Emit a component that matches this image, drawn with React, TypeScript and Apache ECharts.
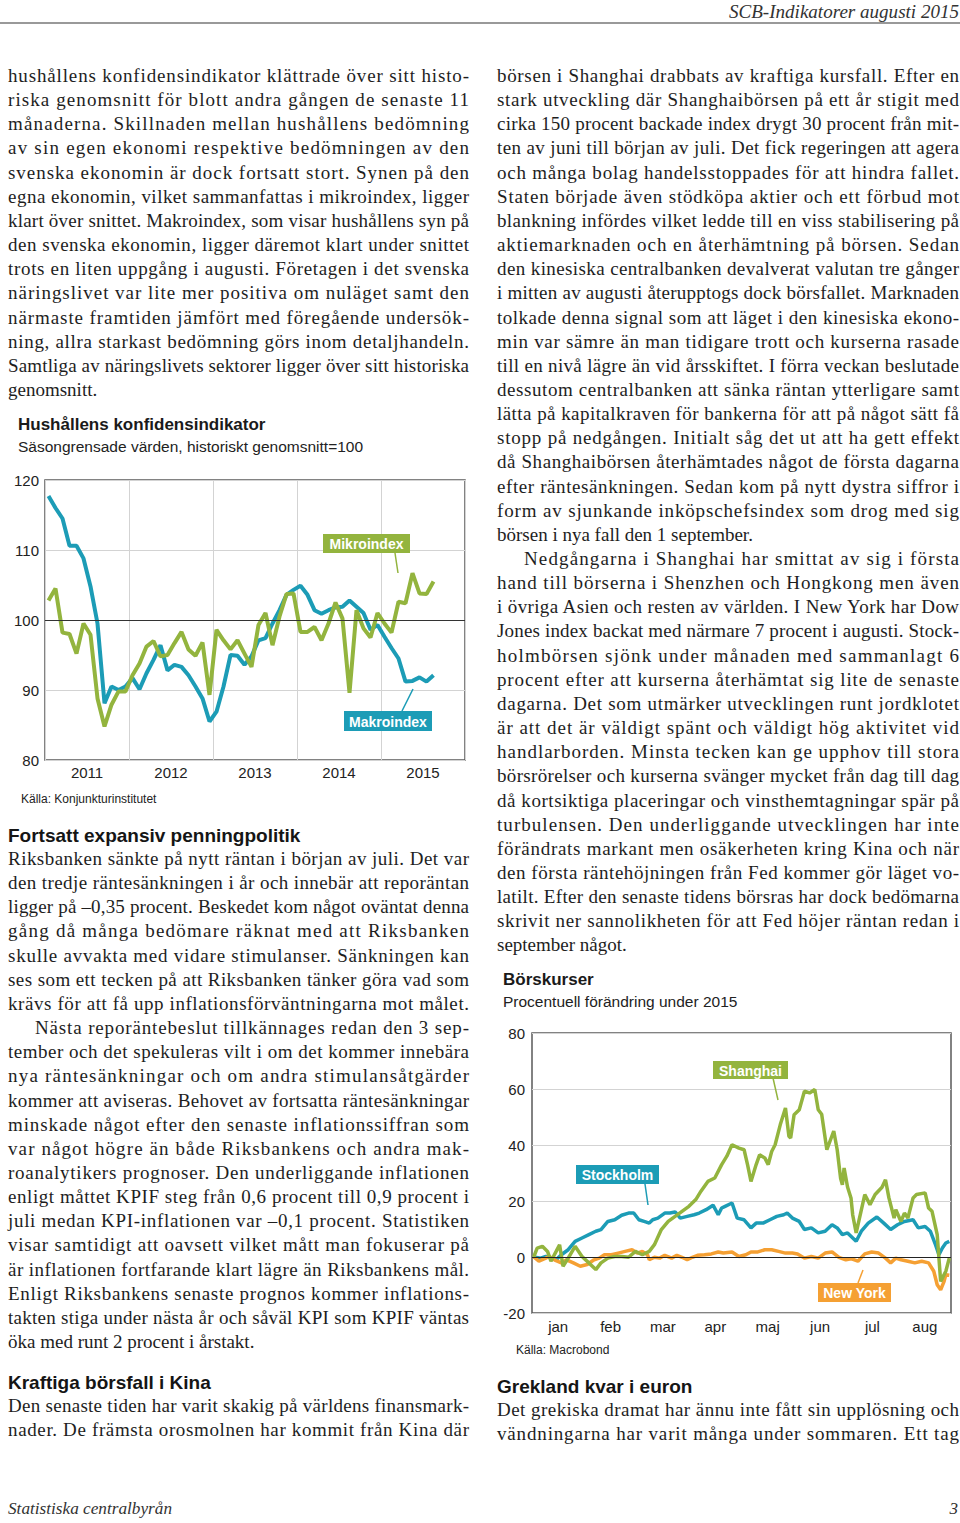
import React, { useEffect, useRef } from 'react';
import * as echarts from 'echarts';

// ---------- Chart 1 data: Hushållens konfidensindikator (monthly, Jan 2011 - Aug 2015)
const years = ['2011', '2012', '2013', '2014', '2015'];
const makroindex = [117.7, 116, 114.5, 110.6, 110.6, 108.8, 104.8, 99.5, 88.1, 90.5, 90, 90.5,
  91.7, 90.1, 92.4, 94.3, 96.4, 92.8, 93.6, 93.3, 92.1, 90.5, 88.8, 85.5,
  86.9, 90.5, 95, 94.9, 93.6, 94.8, 97.1, 97.4, 99.5, 101.4, 103.6, 104.3,
  104.9, 103.6, 101.4, 100.9, 101.4, 101.8, 101.9, 102.8, 101.9, 101, 98.6, 99.3,
  97.6, 96, 94.5, 91.2, 91.3, 91.8, 91.2, 92.1];
const mikroindex = [102.8, 104.5, 98.2, 98, 95.2, 99.5, 97.9, 88.8, 84.8, 87.9, 89.8, 89.8,
  92.1, 93.8, 96.2, 97, 94.8, 95, 96.7, 98.3, 95.8, 94.9, 96.8, 89.3,
  98.6, 97.1, 95.8, 97.1, 95.2, 93.3, 99.3, 101, 96.4, 100.5, 103.7, 103.8,
  98.3, 98.3, 99, 97.1, 99.5, 102.5, 100.2, 89.6, 101.4, 98.8, 97.5, 101,
  99.5, 98.2, 102.6, 102.4, 106.7, 103.8, 103.7, 105.5];

// ---------- Chart 2 data: Börskurser 2015, [day of year, % change]
const months = ['jan', 'feb', 'mar', 'apr', 'maj', 'jun', 'jul', 'aug'];
const stockholm: [number, number][] = [[1, 0], [5, -0.4], [8, 0.2], [10, -0.1], [14, -1], [17, 0.8], [21, 2.6], [25, 5.6], [29, 6.8], [33, 8], [37, 9.2], [40, 9.8], [44, 12.7], [48, 13.3], [52, 14.9], [56, 15.7], [59, 15.7], [62, 13.3], [65, 12.7], [68, 12.1], [70, 13.3], [73, 13.9], [77, 15.7], [80, 15.7], [83, 16.1], [86, 13.9], [90, 14.5], [94, 15.1], [97, 15.7], [101, 16.9], [105, 18.5], [108, 15.1], [110, 17.5], [112, 18.1], [116, 19.3], [119, 13.9], [123, 13.3], [127, 10.4], [130, 12.1], [134, 12.1], [138, 13.3], [142, 14.5], [146, 15.1], [148, 15.7], [151, 13.9], [155, 12.7], [158, 9.8], [162, 10.4], [166, 8.6], [170, 9.2], [174, 11.5], [177, 10.4], [180, 8], [183, 8.6], [188, 5.6], [191, 9.2], [195, 12.1], [200, 14.3], [204, 12.1], [208, 9.8], [212, 11.5], [216, 12.7], [221, 13.3], [224, 10.4], [228, 10.9], [231, 9.2], [234, 4.4], [236, 0.8], [238, 3.2], [240, 5], [242, 5.6]];
const shanghai: [number, number][] = [[1, 0], [3, 3.2], [6, 3.8], [9, 2], [11, -1.5], [14, 2], [16, 4.4], [18, -3.3], [21, -0.4], [25, 3.8], [29, 0.2], [33, -2.1], [37, -4.5], [40, -2.1], [44, -0.4], [48, 0.2], [52, 0.2], [56, -0.1], [60, 2], [64, 0.8], [68, 2], [71, 4.4], [75, 9.8], [79, 12.7], [83, 14.5], [87, 16.3], [91, 18.1], [95, 20.5], [98, 23.5], [102, 27], [106, 28.2], [110, 33], [113, 36], [116, 40.1], [120, 38.9], [123, 38.3], [125, 33], [127, 27], [130, 33], [132, 36.5], [135, 35.4], [137, 33], [139, 37.7], [141, 40.1], [144, 47.3], [147, 53.2], [149, 43.1], [150, 42.5], [152, 50.8], [155, 52.6], [158, 59.2], [161, 58.6], [164, 59.8], [166, 52.6], [168, 51], [171, 38.3], [175, 45], [177, 38.3], [179, 28], [180, 25.8], [181, 31.8], [183, 25], [185, 21.1], [186, 15], [188, 8.6], [193, 22.3], [196, 18.7], [199, 22.3], [203, 24.9], [205, 27.6], [207, 21.1], [210, 13.9], [211, 16.9], [214, 12.7], [216, 15.7], [218, 13.9], [221, 21.1], [223, 22.3], [228, 22.9], [230, 17.5], [232, 16.3], [235, 8], [237, -8.7], [240, -5.1], [242, -0.4]];
const newYork: [number, number][] = [[1, 0], [4, -1.5], [8, -0.4], [10, 0.2], [13, -1], [17, -2.1], [20, -1], [24, -2.1], [28, -3.3], [32, -2.7], [36, -1], [39, -0.4], [42, 0.8], [46, 0.8], [50, 1.4], [54, 2], [58, 2.6], [61, 1.4], [64, 2], [67, 0.8], [68, -1], [71, -0.1], [74, -0.4], [77, 0.6], [81, -0.4], [84, 0.6], [87, -0.1], [90, -1], [93, -0.1], [96, 0.6], [100, 0.8], [104, 1.1], [108, 1.8], [111, 1.4], [116, 1.8], [120, 0.2], [124, 0.8], [127, 1.8], [131, 1.8], [135, 2.6], [139, 2.6], [143, 2], [147, 1.4], [151, 1.4], [154, 1.1], [158, -0.4], [162, 0.2], [166, -0.4], [170, 1.4], [174, 1.8], [178, -0.1], [182, -1], [185, -0.6], [189, -1.5], [193, 1.1], [197, 1.8], [201, 1.4], [205, -0.4], [208, -2.1], [211, -0.4], [214, -1], [218, -1.5], [222, -2.1], [226, -1.5], [230, -2.1], [233, -5.1], [235, -9.9], [237, -11.7], [239, -8.7], [240, -6.3], [242, -6.5]];

// ---------- Page text
type Ln = { t: string; r?: boolean; i?: boolean };
const J = (t: string): Ln => ({ t });
const R = (t: string): Ln => ({ t, r: true });
const I = (t: string): Ln => ({ t, i: true });

const leftTop: Ln[] = [
  J('hushållens konfidensindikator klättrade över sitt histo-'),
  J('riska genomsnitt för blott andra gången de senaste 11'),
  J('månaderna. Skillnaden mellan hushållens bedömning'),
  J('av sin egen ekonomi respektive bedömningen av den'),
  J('svenska ekonomin är dock fortsatt stort. Synen på den'),
  J('egna ekonomin, vilket sammanfattas i mikroindex, ligger'),
  J('klart över snittet. Makroindex, som visar hushållens syn på'),
  J('den svenska ekonomin, ligger däremot klart under snittet'),
  J('trots en liten uppgång i augusti. Företagen i det svenska'),
  J('näringslivet var lite mer positiva om nuläget samt den'),
  J('närmaste framtiden jämfört med föregående undersök-'),
  J('ning, allra starkast bedömning görs inom detaljhandeln.'),
  J('Samtliga av näringslivets sektorer ligger över sitt historiska'),
  R('genomsnitt.'),
];
const leftMid: Ln[] = [
  J('Riksbanken sänkte på nytt räntan i början av juli. Det var'),
  J('den tredje räntesänkningen i år och innebär att reporäntan'),
  J('ligger på –0,35 procent. Beskedet kom något oväntat denna'),
  J('gång då många bedömare räknat med att Riksbanken'),
  J('skulle avvakta med vidare stimulanser. Sänkningen kan'),
  J('ses som ett tecken på att Riksbanken tänker göra vad som'),
  J('krävs för att få upp inflationsförväntningarna mot målet.'),
  I('Nästa reporäntebeslut tillkännages redan den 3 sep-'),
  J('tember och det spekuleras vilt i om det kommer innebära'),
  J('nya räntesänkningar och om andra stimulansåtgärder'),
  J('kommer att aviseras. Behovet av fortsatta räntesänkningar'),
  J('minskade något efter den senaste inflationssiffran som'),
  J('var något högre än både Riksbankens och andra mak-'),
  J('roanalytikers prognoser. Den underliggande inflationen'),
  J('enligt måttet KPIF steg från 0,6 procent till 0,9 procent i'),
  J('juli medan KPI-inflationen var –0,1 procent. Statistiken'),
  J('visar samtidigt att oavsett vilket mått man fokuserar på'),
  J('är inflationen fortfarande klart lägre än Riksbankens mål.'),
  J('Enligt Riksbankens senaste prognos kommer inflations-'),
  J('takten stiga under nästa år och såväl KPI som KPIF väntas'),
  R('öka med runt 2 procent i årstakt.'),
];
const leftBottom: Ln[] = [
  J('Den senaste tiden har varit skakig på världens finansmark-'),
  J('nader. De främsta orosmolnen har kommit från Kina där'),
];
const rightTop: Ln[] = [
  J('börsen i Shanghai drabbats av kraftiga kursfall. Efter en'),
  J('stark utveckling där Shanghaibörsen på ett år stigit med'),
  J('cirka 150 procent backade index drygt 30 procent från mit-'),
  J('ten av juni till början av juli. Det fick regeringen att agera'),
  J('och många bolag handelsstoppades för att hindra fallet.'),
  J('Staten började även stödköpa aktier och ett förbud mot'),
  J('blankning infördes vilket ledde till en viss stabilisering på'),
  J('aktiemarknaden och en återhämtning på börsen. Sedan'),
  J('den kinesiska centralbanken devalverat valutan tre gånger'),
  J('i mitten av augusti återupptogs dock börsfallet. Marknaden'),
  J('tolkade denna signal som att läget i den kinesiska ekono-'),
  J('min var sämre än man tidigare trott och kurserna rasade'),
  J('till en nivå lägre än vid årsskiftet. I förra veckan beslutade'),
  J('dessutom centralbanken att sänka räntan ytterligare samt'),
  J('lätta på kapitalkraven för bankerna för att på något sätt få'),
  J('stopp på nedgången. Initialt såg det ut att ha gett effekt'),
  J('då Shanghaibörsen återhämtades något de första dagarna'),
  J('efter räntesänkningen. Sedan kom på nytt dystra siffror i'),
  J('form av sjunkande inköpschefsindex som drog med sig'),
  R('börsen i nya fall den 1 september.'),
  I('Nedgångarna i Shanghai har smittat av sig i första'),
  J('hand till börserna i Shenzhen och Hongkong men även'),
  J('i övriga Asien och resten av världen. I New York har Dow'),
  J('Jones index backat med närmare 7 procent i augusti. Stock-'),
  J('holmbörsen sjönk under månaden med sammanlagt 6'),
  J('procent efter att kurserna återhämtat sig lite de senaste'),
  J('dagarna. Det som utmärker utvecklingen runt jordklotet'),
  J('är att det är väldigt spänt och väldigt hög aktivitet vid'),
  J('handlarborden. Minsta tecken kan ge upphov till stora'),
  J('börsrörelser och kurserna svänger mycket från dag till dag'),
  J('då kortsiktiga placeringar och vinsthemtagningar spär på'),
  J('turbulensen. Den underliggande utvecklingen har inte'),
  J('förändrats markant men osäkerheten kring Kina och när'),
  J('den första räntehöjningen från Fed kommer gör läget vo-'),
  J('latilt. Efter den senaste tidens börsras har dock bedömarna'),
  J('skrivit ner sannolikheten för att Fed höjer räntan redan i'),
  R('september något.'),
];
const rightBottom: Ln[] = [
  J('Det grekiska dramat har ännu inte fått sin upplösning och'),
  J('vändningarna har varit många under sommaren. Ett tag'),
];

const SANS = '"Liberation Sans", Arial, Helvetica, sans-serif';
const SERIF = '"Liberation Serif", "Times New Roman", serif';
const LH = 24.15;

const BLUE = '#1c9cb6';
const GREEN = '#93b43e';
const ORANGE = '#f5a033';

function tx(x: number, y: number, text: string, font: string, fill = '#222') {
  return {
    type: 'text', x, y, silent: true, z: 100,
    style: { text, font, fill, textAlign: 'left', align: 'left', textVerticalAlign: 'middle', verticalAlign: 'middle' },
  };
}
function tag(x: number, y: number, w: number, h: number, text: string, color: string, lx1: number, ly1: number, lx2: number, ly2: number) {
  return [
    { type: 'line', silent: true, z: 100, shape: { x1: lx1, y1: ly1, x2: lx2, y2: ly2 }, style: { stroke: color, lineWidth: 1.5 } },
    { type: 'rect', silent: true, z: 100, shape: { x, y, width: w, height: h }, style: { fill: color } },
    {
      type: 'text', silent: true, z: 101, x: x + w / 2, y: y + h / 2 + 0.5,
      style: { text, font: `bold 14px ${SANS}`, fill: '#fff', textAlign: 'center', align: 'center', textVerticalAlign: 'middle', verticalAlign: 'middle' },
    },
  ];
}

function option1() {
  return {
    animation: false,
    grid: { left: 45, top: 80, width: 420, height: 280, show: true, borderColor: '#5a5a5a', borderWidth: 1.5, backgroundColor: 'transparent' },
    xAxis: [
      {
        type: 'value', min: 0, max: 60, interval: 6,
        axisLine: { show: false }, axisTick: { show: false }, splitLine: { show: false },
        axisLabel: {
          margin: 5, fontSize: 15, color: '#222', fontFamily: SANS,
          formatter: (v: number) => (v % 12 === 6 ? years[(v - 6) / 12] : ''),
        },
      },
      {
        type: 'value', min: 0, max: 60, interval: 12, position: 'bottom',
        axisLine: { show: false }, axisTick: { show: false }, axisLabel: { show: false },
        splitLine: { show: true, lineStyle: { color: '#d3d3d3', width: 1 } },
      },
    ],
    yAxis: {
      type: 'value', min: 80, max: 120, interval: 10,
      axisLine: { show: false }, axisTick: { show: false },
      axisLabel: { fontSize: 15, color: '#222', margin: 6, fontFamily: SANS },
      splitLine: { lineStyle: { color: '#d3d3d3', width: 1 } },
    },
    series: [
      {
        name: 'Makroindex', type: 'line', xAxisIndex: 0, showSymbol: false, silent: true,
        data: makroindex.map((v, i) => [i + 0.5, v]),
        lineStyle: { color: BLUE, width: 4 }, itemStyle: { color: BLUE },
        markLine: {
          silent: true, symbol: 'none', label: { show: false },
          lineStyle: { color: '#333', width: 1, type: 'solid' },
          data: [{ yAxis: 100 }],
        },
      },
      {
        name: 'Mikroindex', type: 'line', xAxisIndex: 0, showSymbol: false, silent: true,
        data: mikroindex.map((v, i) => [i + 0.5, v]),
        lineStyle: { color: GREEN, width: 4 }, itemStyle: { color: GREEN },
      },
    ],
    graphic: [
      tx(18, 24, 'Hushållens konfidensindikator', `bold 17px ${SANS}`, '#1a1a1a'),
      tx(18, 46, 'Säsongrensade värden, historiskt genomsnitt=100', `15.5px ${SANS}`),
      tx(21, 399, 'Källa: Konjunkturinstitutet', `12px ${SANS}`),
      ...tag(323, 134, 87, 19, 'Mikroindex', GREEN, 395, 153, 398, 173),
      ...tag(344, 311, 88, 20, 'Makroindex', BLUE, 402, 311, 413, 289),
    ],
  };
}

function option2() {
  const line = (name: string, data: [number, number][], color: string, extra: any = {}) => ({
    name, type: 'line', xAxisIndex: 0, showSymbol: false, silent: true, data,
    lineStyle: { color, width: 3.5 }, itemStyle: { color }, ...extra,
  });
  return {
    animation: false,
    grid: { left: 42, top: 73, width: 419, height: 280, show: true, borderColor: '#5a5a5a', borderWidth: 1.5, backgroundColor: 'transparent' },
    xAxis: [
      {
        type: 'value', min: 0, max: 243,
        axisLine: { show: false }, axisTick: { show: false }, axisLabel: { show: false }, splitLine: { show: false },
      },
      {
        type: 'category', data: months, boundaryGap: true, position: 'bottom',
        axisLine: { show: false }, axisTick: { show: false }, splitLine: { show: false },
        axisLabel: { fontSize: 15, color: '#222', margin: 6, fontFamily: SANS, interval: 0 },
      },
    ],
    yAxis: {
      type: 'value', min: -20, max: 80, interval: 20,
      axisLine: { show: false }, axisTick: { show: false },
      axisLabel: { fontSize: 15, color: '#222', margin: 7, fontFamily: SANS },
      splitLine: { lineStyle: { color: '#d3d3d3', width: 1 } },
    },
    series: [
      line('Stockholm', stockholm, BLUE, {
        markLine: {
          silent: true, symbol: 'none', label: { show: false },
          lineStyle: { color: '#222', width: 1.2, type: 'solid' },
          data: [{ yAxis: 0 }],
        },
      }),
      line('New York', newYork, ORANGE),
      line('Shanghai', shanghai, GREEN),
    ],
    graphic: [
      tx(13, 19, 'Börskurser', `bold 17px ${SANS}`, '#1a1a1a'),
      tx(13, 41, 'Procentuell förändring under 2015', `15.5px ${SANS}`),
      tx(26, 390, 'Källa: Macrobond', `12px ${SANS}`),
      ...tag(86, 205, 83, 19, 'Stockholm', BLUE, 155, 224, 158, 245),
      ...tag(223, 101, 75, 18, 'Shanghai', GREEN, 283, 118, 288, 140),
      ...tag(328, 323, 73, 19, 'New York', ORANGE, 368, 323, 373, 310),
    ],
  };
}

function Block({ x, w, y0, lines }: { x: number; w: number; y0: number; lines: Ln[] }) {
  return (
    <>
      {lines.map((l, k) => {
        const ind = l.i ? 27 : 0;
        const y = y0 + k * LH + 6;
        const props: any = {};
        if (!l.r) {
          props.textLength = w - ind;
          props.lengthAdjust = 'spacing';
        }
        return (
          <text key={k} x={x + ind} y={y} {...props}>{l.t}</text>
        );
      })}
    </>
  );
}

export default function App() {
  const r1 = useRef<HTMLDivElement>(null);
  const r2 = useRef<HTMLDivElement>(null);
  useEffect(() => {
    const c1 = echarts.init(r1.current as HTMLDivElement, null, { renderer: 'svg' });
    c1.setOption(option1() as any);
    const c2 = echarts.init(r2.current as HTMLDivElement, null, { renderer: 'svg' });
    c2.setOption(option2() as any);
    return () => {
      c1.dispose();
      c2.dispose();
    };
  }, []);

  const head = { fontFamily: SANS, fontWeight: 700, fontSize: 19, fill: '#151515' } as any;

  return (
    <div style={{ position: 'absolute', left: 0, top: 0, width: 960, height: 1523, background: '#fff', overflow: 'hidden' }}>
      <svg width={960} height={1523} style={{ position: 'absolute', left: 0, top: 0 }}>
        <text x={959} y={18} textAnchor="end" textLength={230} lengthAdjust="spacingAndGlyphs"
          style={{ fontFamily: SERIF, fontStyle: 'italic', fontSize: 19, fill: '#333' } as any}>SCB-Indikatorer augusti 2015</text>
        <line x1={0} y1={23} x2={960} y2={23} stroke="#777" strokeWidth={1.3} />
        <g style={{ fontFamily: SERIF, fontSize: 19, fill: '#1e1e1e' } as any}>
          <Block x={8} w={461} y0={76} lines={leftTop} />
          <Block x={8} w={461} y0={859} lines={leftMid} />
          <Block x={8} w={461} y0={1406} lines={leftBottom} />
          <Block x={497} w={462} y0={76} lines={rightTop} />
          <Block x={497} w={462} y0={1410} lines={rightBottom} />
        </g>
        <text x={8} y={842} style={head}>Fortsatt expansiv penningpolitik</text>
        <text x={8} y={1389} style={head}>Kraftiga börsfall i Kina</text>
        <text x={497} y={1393} style={head}>Grekland kvar i euron</text>
        <text x={8} y={1514} textLength={164} lengthAdjust="spacingAndGlyphs"
          style={{ fontFamily: SERIF, fontStyle: 'italic', fontSize: 17, fill: '#333' } as any}>Statistiska centralbyrån</text>
        <text x={958} y={1514} textAnchor="end"
          style={{ fontFamily: SERIF, fontStyle: 'italic', fontSize: 17, fill: '#333' } as any}>3</text>
      </svg>
      <div ref={r1} style={{ position: 'absolute', left: 0, top: 400, width: 480, height: 420 }} />
      <div ref={r2} style={{ position: 'absolute', left: 490, top: 960, width: 470, height: 410 }} />
    </div>
  );
}
